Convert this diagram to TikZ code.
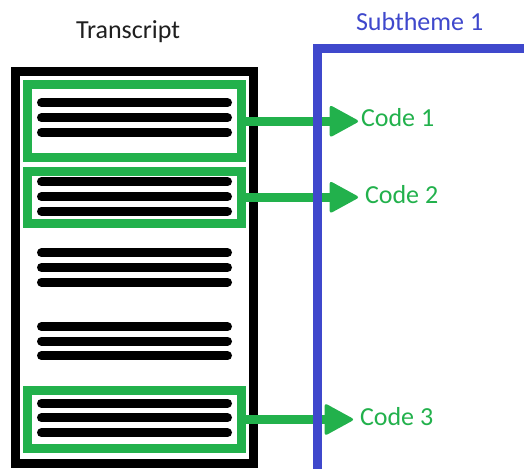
\documentclass[tikz,border=0pt]{standalone}
\usepackage{fontspec}
\setmainfont{Carlito}
\usetikzlibrary{arrows.meta}
\definecolor{codegreen}{RGB}{34,177,76}
\definecolor{themeblue}{RGB}{63,72,204}
\tikzset{
  frame/.style={draw=black, line width=9pt, rectangle, inner sep=0pt, outer sep=0pt},
  codebox/.style={draw=codegreen, line width=9pt, rectangle, inner sep=0pt, outer sep=0pt, minimum width=214pt},
  textline/.style={draw=black, line width=9pt, line cap=round},
  theme/.style={draw=themeblue, line width=9pt},
  codearrow/.style={draw=codegreen, line width=9pt,
    -{Triangle[length=30pt, width=32pt, round, line width=3pt]}},
  label/.style={inner sep=0pt, outer sep=0pt, font=\fontsize{26}{29}\selectfont},
}
\begin{document}
\begin{tikzpicture}[x=1pt, y=-1pt]
  \useasboundingbox[fill=white] (0,0) rectangle (524,468);

  % headings
  \node[label, anchor=base west, text=black!88] (title) at (76,39) {Transcript};
  \node[label, anchor=base west, text=themeblue] (theme) at (356,31) {Subtheme 1};

  % transcript page
  \node[frame, minimum width=237.5pt, minimum height=391pt] (page) at (134.25,267.5) {};

  % rows of text on the page
  \foreach \y in {102.7,117.7,132.3, 181.7,196.7,211.3, 252.7,267.5,282, 326.7,341,355.7, 403.3,417.7,432.7}
    \draw[textline] (41.5,\y) -- (227.5,\y);

  % coded passages
  \node[codebox, minimum height=72.5pt] (box1) at (134.5,121.25) {};
  \node[codebox, minimum height=52.5pt] (box2) at (134.5,197.25) {};
  \node[codebox, minimum height=58pt] (box3) at (134.5,419.5) {};

  % code labels
  \node[label, anchor=base west, text=codegreen] (code1) at (361,126) {Code 1};
  \node[label, anchor=base west, text=codegreen] (code2) at (365,203) {Code 2};
  \node[label, anchor=base west, text=codegreen] (code3) at (360,425.5) {Code 3};

  % arrow tips
  \coordinate (tip1) at (358,121.25);
  \coordinate (tip2) at (358,197.25);
  \coordinate (tip3) at (353,419.5);

  \draw[codearrow] (box1.east) -- (tip1);
  \draw[codearrow] (box2.east) -- (tip2);
  \draw[codearrow] (box3.east) -- (tip3);

  % subtheme frame
  \draw[theme] (317,475) -- (317,49) -- (530,49);
\end{tikzpicture}
\end{document}
